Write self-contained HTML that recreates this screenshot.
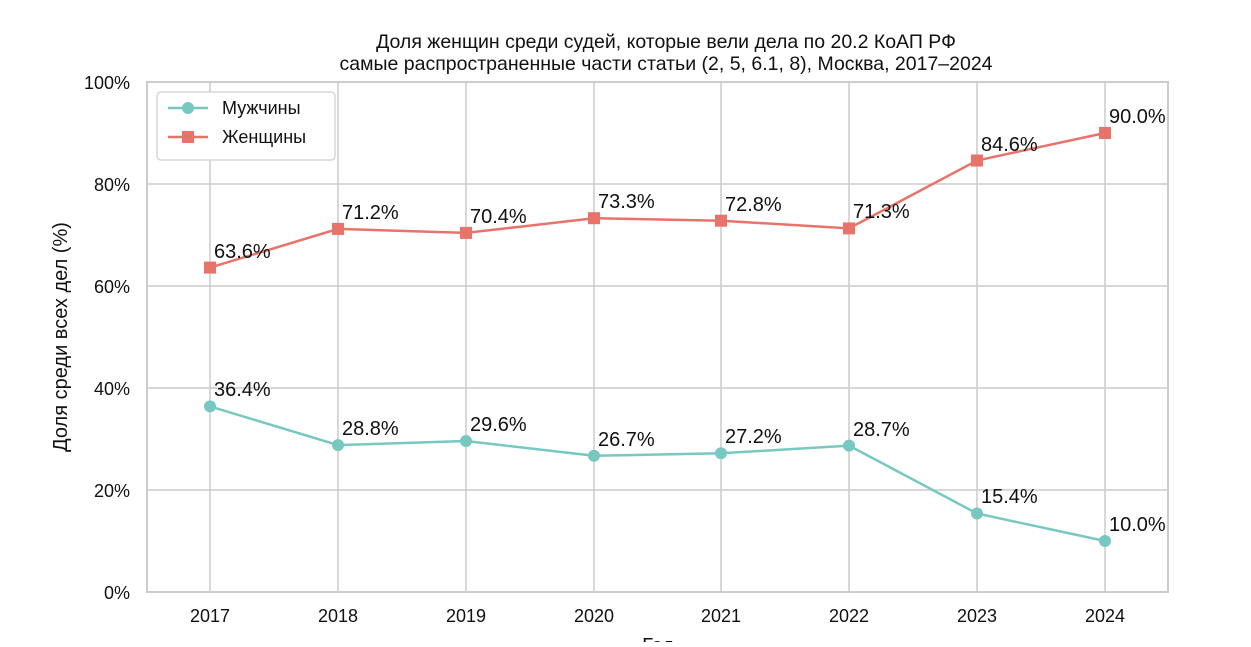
<!DOCTYPE html>
<html><head><meta charset="utf-8"><style>
body{margin:0;background:#fff;}
svg text{font-family:"Liberation Sans",Arial,sans-serif;fill:#111;}
</style></head><body>
<svg width="1251" height="642" viewBox="0 0 1251 642" xmlns="http://www.w3.org/2000/svg">
<rect width="1251" height="642" fill="#fff"/>
<g stroke="#cccccc" stroke-width="1.5">
<line x1="147" y1="184" x2="1168" y2="184"/>
<line x1="147" y1="286" x2="1168" y2="286"/>
<line x1="147" y1="388" x2="1168" y2="388"/>
<line x1="147" y1="490" x2="1168" y2="490"/>
<line x1="210" y1="82" x2="210" y2="592"/>
<line x1="338" y1="82" x2="338" y2="592"/>
<line x1="466" y1="82" x2="466" y2="592"/>
<line x1="594" y1="82" x2="594" y2="592"/>
<line x1="721" y1="82" x2="721" y2="592"/>
<line x1="849" y1="82" x2="849" y2="592"/>
<line x1="977" y1="82" x2="977" y2="592"/>
<line x1="1105" y1="82" x2="1105" y2="592"/>
</g>
<rect x="147" y="82" width="1021" height="510" fill="none" stroke="#cccccc" stroke-width="2"/>
<g font-size="19.5" text-anchor="middle">
<text x="666" y="48">Доля женщин среди судей, которые вели дела по 20.2 КоАП РФ</text>
<text x="666" y="70">самые распространенные части статьи (2, 5, 6.1, 8), Москва, 2017–2024</text>
</g>
<g font-size="18" text-anchor="end">
<text x="130" y="89">100%</text>
<text x="130" y="191">80%</text>
<text x="130" y="293">60%</text>
<text x="130" y="395">40%</text>
<text x="130" y="497">20%</text>
<text x="130" y="599">0%</text>
</g>
<g font-size="18" text-anchor="middle">
<text x="210" y="622">2017</text><text x="338" y="622">2018</text><text x="466" y="622">2019</text><text x="594" y="622">2020</text>
<text x="721" y="622">2021</text><text x="849" y="622">2022</text><text x="977" y="622">2023</text><text x="1105" y="622">2024</text>
<text x="658" y="652" font-size="20">Год</text>
</g>
<text transform="translate(67,337) rotate(-90)" font-size="20" text-anchor="middle">Доля среди всех дел (%)</text>
<polyline fill="none" stroke="#e8736a" stroke-width="2.5" points="210,267.6 338,228.9 466,232.9 594,218.2 721,220.7 849,228.4 977,160.5 1105,133"/>
<g fill="#e8736a">
<rect x="204" y="261.6" width="12" height="12"/><rect x="332" y="222.9" width="12" height="12"/><rect x="460" y="226.9" width="12" height="12"/><rect x="588" y="212.2" width="12" height="12"/>
<rect x="715" y="214.7" width="12" height="12"/><rect x="843" y="222.4" width="12" height="12"/><rect x="971" y="154.5" width="12" height="12"/><rect x="1099" y="127" width="12" height="12"/>
</g>
<polyline fill="none" stroke="#77c8c0" stroke-width="2.5" points="210,406.4 338,445.1 466,441 594,455.8 721,453.3 849,445.6 977,513.5 1105,541"/>
<g fill="#77c8c0">
<circle cx="210" cy="406.4" r="6"/><circle cx="338" cy="445.1" r="6"/><circle cx="466" cy="441" r="6"/><circle cx="594" cy="455.8" r="6"/>
<circle cx="721" cy="453.3" r="6"/><circle cx="849" cy="445.6" r="6"/><circle cx="977" cy="513.5" r="6"/><circle cx="1105" cy="541" r="6"/>
</g>
<g font-size="20">
<text x="214" y="258">63.6%</text><text x="342" y="219">71.2%</text><text x="470" y="223">70.4%</text><text x="598" y="208">73.3%</text>
<text x="725" y="211">72.8%</text><text x="853" y="218">71.3%</text><text x="981" y="151">84.6%</text><text x="1109" y="123">90.0%</text>
<text x="214" y="396">36.4%</text><text x="342" y="435">28.8%</text><text x="470" y="431">29.6%</text><text x="598" y="446">26.7%</text>
<text x="725" y="443">27.2%</text><text x="853" y="436">28.7%</text><text x="981" y="503">15.4%</text><text x="1109" y="531">10.0%</text>
</g>
<rect x="157" y="92" width="178" height="68" rx="4" fill="#fff" stroke="#d6d6d6" stroke-width="1.5"/>
<line x1="168" y1="108" x2="208" y2="108" stroke="#77c8c0" stroke-width="2.5"/>
<circle cx="188" cy="108" r="6" fill="#77c8c0"/>
<line x1="168" y1="137" x2="208" y2="137" stroke="#e8736a" stroke-width="2.5"/>
<rect x="182" y="131" width="12" height="12" fill="#e8736a"/>
<text x="222" y="114" font-size="18">Мужчины</text>
<text x="222" y="143" font-size="18">Женщины</text>
</svg>
</body></html>
